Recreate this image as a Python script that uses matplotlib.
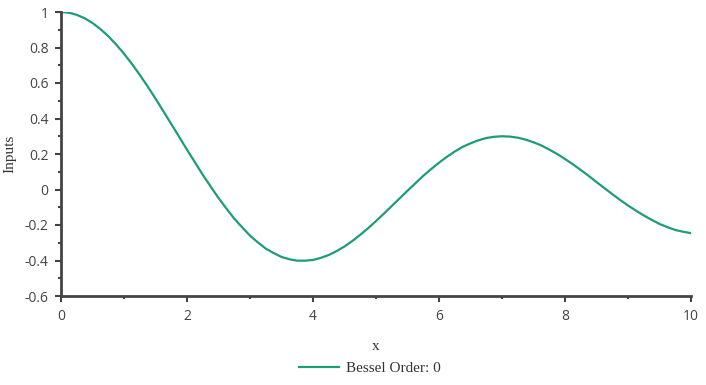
import numpy as np
import matplotlib.pyplot as plt

# values
x_vals = [0, 0.125, 0.25, 0.375, 0.5, 0.625, 0.75, 0.875, 1, 1.125, 1.25,
          1.375, 1.5, 1.625, 1.75, 1.875, 2, 2.125, 2.25, 2.375, 2.5, 2.625,
          2.75, 2.875, 3, 3.125, 3.25, 3.375, 3.5, 3.625, 3.75, 3.875, 4,
          4.125, 4.25, 4.375, 4.5, 4.625, 4.75, 4.875, 5, 5.125, 5.25, 5.375,
          5.5, 5.625, 5.75, 5.875, 6, 6.125, 6.25, 6.375, 6.5, 6.625, 6.75,
          6.875, 7, 7.125, 7.25, 7.375, 7.5, 7.625, 7.75, 7.875, 8, 8.125,
          8.25, 8.375, 8.5, 8.625, 8.75, 8.875, 9, 9.125, 9.25, 9.375, 9.5,
          9.625, 9.75, 9.875, 10]
y_vals = [1.0, 0.996, 0.984, 0.965, 0.938, 0.904, 0.864, 0.817, 0.765, 0.708,
          0.646, 0.581, 0.512, 0.441, 0.369, 0.297, 0.224, 0.154, 0.083, 0.017,
          -0.048, -0.107, -0.164, -0.213, -0.260, -0.298, -0.333, -0.358,
          -0.380, -0.393, -0.401, -0.401, -0.397, -0.385, -0.369, -0.347,
          -0.321, -0.290, -0.255, -0.218, -0.178, -0.136, -0.093, -0.050,
          -0.007, 0.035, 0.077, 0.115, 0.151, 0.184, 0.214, 0.240, 0.260,
          0.277, 0.290, 0.297, 0.300, 0.298, 0.292, 0.281, 0.266, 0.248,
          0.225, 0.200, 0.172, 0.142, 0.110, 0.077, 0.042, 0.008, -0.026,
          -0.059, -0.090, -0.119, -0.146, -0.171, -0.194, -0.212, -0.228,
          -0.238, -0.246]
series_name = "Bessel Order: 0"
x_ticks = [0, 2, 4, 6, 8, 10]
y_ticks = [-0.6, -0.4, -0.2, 0, 0.2, 0.4, 0.6, 0.8, 1]
y_tick_labels = ['-0.6', '-0.4', '-0.2', '0', '0.2', '0.4', '0.6', '0.8', '1']

W, H = 706, 385
fig = plt.figure(figsize=(W / 100, H / 100), dpi=100)
ax = fig.add_axes([61 / W, 1 - 296 / H, 630 / W, 284 / H])

line, = ax.plot(x_vals, y_vals, color='#1b9e77', linewidth=1.6,
                solid_joinstyle='round', label=series_name)

ax.set_xlim(0, 10)
ax.set_ylim(-0.6, 1)
ax.set_xticks(x_ticks)
ax.set_xticklabels([str(t) for t in x_ticks])
ax.set_xticks(np.arange(1, 10, 2), minor=True)
ax.set_yticks(y_ticks)
ax.set_yticklabels(y_tick_labels)
ax.set_yticks(np.arange(-0.5, 1.0, 0.2), minor=True)

for s in ['top', 'right']:
    ax.spines[s].set_visible(False)
for s in ['left', 'bottom']:
    ax.spines[s].set_color('#444444')
    ax.spines[s].set_linewidth(2)

ax.tick_params(which='major', length=4, width=1.5, color='#444444',
               labelsize=10, labelcolor='#444444', pad=5)
ax.tick_params(which='minor', length=2, width=1.5, color='#444444')
for lab in ax.get_xticklabels() + ax.get_yticklabels():
    lab.set_fontfamily('Open Sans')

ax.set_xlabel('x', fontsize=11, family='Liberation Serif', color='#333333', labelpad=12)
ax.set_ylabel('Inputs', fontsize=11, family='Liberation Serif', color='#333333', labelpad=6)

fig.legend(handles=[line], loc='center', bbox_to_anchor=(370 / W, 1 - 368 / H),
           frameon=False, prop={'family': 'Liberation Serif', 'size': 11},
           handlelength=2.6, handletextpad=0.5)
for t in fig.legends[0].get_texts():
    t.set_color('#333333')

fig.savefig('out.png', dpi=100)
